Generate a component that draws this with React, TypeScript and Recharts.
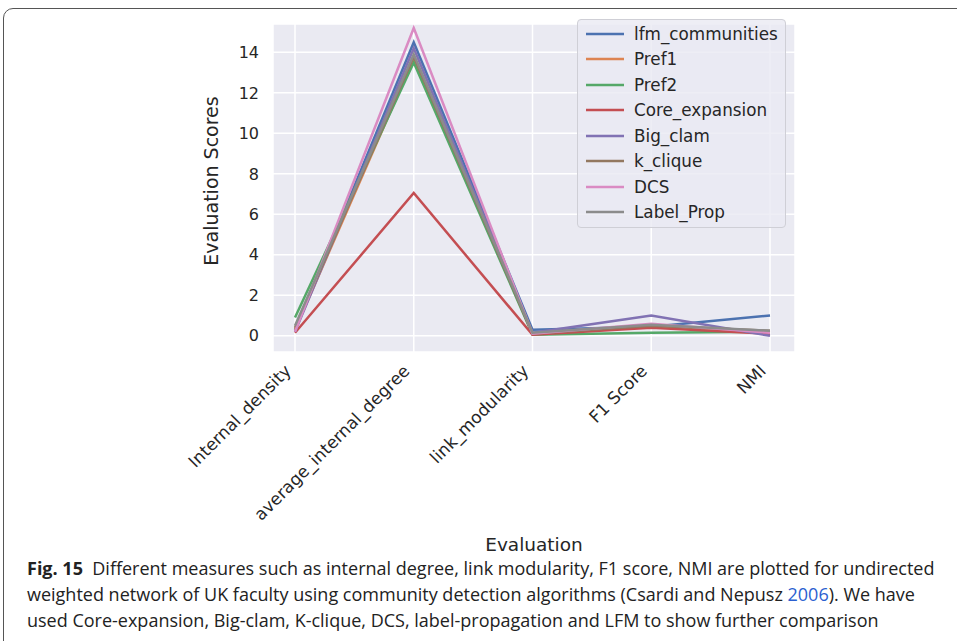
import React from "react";
import {
  LineChart,
  Line,
  XAxis,
  YAxis,
  CartesianGrid,
  Legend,
} from "recharts";

const measures = [
  "Internal_density",
  "average_internal_degree",
  "link_modularity",
  "F1 Score",
  "NMI",
];

const lfmCommunities = [0.3, 14.5, 0.3, 0.45, 1.0];
const pref1 = [0.3, 13.7, 0.1, 0.5, 0.2];
const pref2 = [0.9, 13.5, 0.05, 0.15, 0.2];
const coreExpansion = [0.15, 7.05, 0.05, 0.4, 0.1];
const bigClam = [0.2, 14.2, 0.15, 1.0, 0.0];
const kClique = [0.4, 13.8, 0.1, 0.5, 0.25];
const dcs = [0.2, 15.2, 0.1, 0.6, 0.15];
const labelProp = [0.5, 13.9, 0.15, 0.55, 0.25];

const yTicks = [0, 2, 4, 6, 8, 10, 12, 14];

const series = [
  { key: "lfm_communities", values: lfmCommunities, color: "#4C72B0" },
  { key: "Pref1", values: pref1, color: "#DD8452" },
  { key: "Pref2", values: pref2, color: "#55A868" },
  { key: "Core_expansion", values: coreExpansion, color: "#C44E52" },
  { key: "Big_clam", values: bigClam, color: "#8172B3" },
  { key: "k_clique", values: kClique, color: "#937860" },
  { key: "DCS", values: dcs, color: "#DA8BC3" },
  { key: "Label_Prop", values: labelProp, color: "#8C8C8C" },
];

const data = measures.map((m, i) => {
  const row: Record<string, string | number> = { measure: m };
  series.forEach((s) => {
    row[s.key] = s.values[i];
  });
  return row;
});

const FONT = "'DejaVu Sans', sans-serif";
const INK = "#262626";

function XTick({ x, y, payload }: { x?: number; y?: number; payload?: { value: string } }) {
  const px = (x ?? 0) - 3;
  const py = (y ?? 0) + 20;
  return (
    <text
      x={px}
      y={py}
      transform={`rotate(-45 ${px} ${py})`}
      textAnchor="end"
      fill={INK}
      fontSize={17}
      fontFamily={FONT}
    >
      {payload?.value}
    </text>
  );
}

function YLabel() {
  // rotated axis title, centred on the ink of the reference
  return (
    <text
      x={218}
      y={181}
      transform="rotate(-90 218 181)"
      textAnchor="middle"
      fill={INK}
      fontSize={19}
      fontFamily={FONT}
    >
      Evaluation Scores
    </text>
  );
}

function LegendBox() {
  return (
    <div
      style={{
        boxSizing: "border-box",
        width: 209,
        height: 209,
        border: "1px solid #cfcfd6",
        borderRadius: 4,
        background: "rgba(234,234,242,0.8)",
        paddingTop: 1,
        textAlign: "left",
      }}
    >
      {series.map((s) => (
        <div
          key={s.key}
          style={{ display: "flex", alignItems: "center", height: 25.5 }}
        >
          <svg width={56} height={10} style={{ flex: "none" }}>
            <line x1={8} x2={46} y1={5} y2={5} stroke={s.color} strokeWidth={2.5} />
          </svg>
          <span
            style={{
              fontFamily: FONT,
              fontSize: 16.8,
              color: INK,
              lineHeight: "20px",
            }}
          >
            {s.key}
          </span>
        </div>
      ))}
    </div>
  );
}

export default function App() {
  return (
    <div
      style={{
        position: "absolute",
        left: 0,
        top: 0,
        width: 957,
        height: 641,
        background: "#fff",
        overflow: "hidden",
      }}
    >
      <div
        style={{
          position: "absolute",
          left: 3,
          top: 8,
          width: 990,
          height: 700,
          border: "1.5px solid #555",
          borderRadius: 10,
          boxSizing: "border-box",
        }}
      />
      <div style={{ position: "absolute", left: 0, top: 0 }}>
        <LineChart
          width={957}
          height={560}
          data={data}
          margin={{ top: 24, right: 162, bottom: 3, left: 213 }}
        >
          <CartesianGrid fill="#EAEAF2" stroke="#ffffff" strokeWidth={1.5} />
          <XAxis
            dataKey="measure"
            type="category"
            padding={{ left: 22, right: 25 }}
            axisLine={false}
            tickLine={false}
            tickSize={0}
            tickMargin={0}
            height={205}
            interval={0}
            tick={<XTick />}
            label={{
              value: "Evaluation",
              position: "insideBottom",
              offset: 6,
              fill: INK,
              fontSize: 18.5,
              fontFamily: FONT,
            }}
          />
          <YAxis
            type="number"
            domain={[-0.8, 15.4]}
            ticks={yTicks}
            allowDataOverflow
            axisLine={false}
            tickLine={false}
            tickSize={0}
            tickMargin={14}
            width={60}
            tick={{ fill: INK, fontSize: 16, fontFamily: FONT }}
            label={{ content: <YLabel /> }}
          />
          <Legend
            layout="vertical"
            verticalAlign="middle"
            align="center"
            content={<LegendBox />}
            wrapperStyle={{ left: 577, top: 19, width: 209 }}
          />
          {series.map((s) => (
            <Line
              key={s.key}
              dataKey={s.key}
              stroke={s.color}
              strokeWidth={2.5}
              dot={false}
              activeDot={false}
              isAnimationActive={false}
            />
          ))}
        </LineChart>
      </div>
      <div
        style={{
          position: "absolute",
          left: 27,
          top: 555,
          fontFamily: "'Open Sans', sans-serif",
          fontSize: 18,
          lineHeight: "26px",
          color: "#222",
          whiteSpace: "nowrap",
        }}
      >
        <div>
          <b>Fig. 15</b>&nbsp; Different measures such as internal degree, link modularity, F1 score, NMI are plotted for undirected
        </div>
        <div>
          weighted network of UK faculty using community detection algorithms (Csardi and Nepusz{" "}
          <span style={{ color: "#2b5fd0" }}>2006</span>). We have
        </div>
        <div>used Core-expansion, Big-clam, K-clique, DCS, label-propagation and LFM to show further comparison</div>
      </div>
    </div>
  );
}
